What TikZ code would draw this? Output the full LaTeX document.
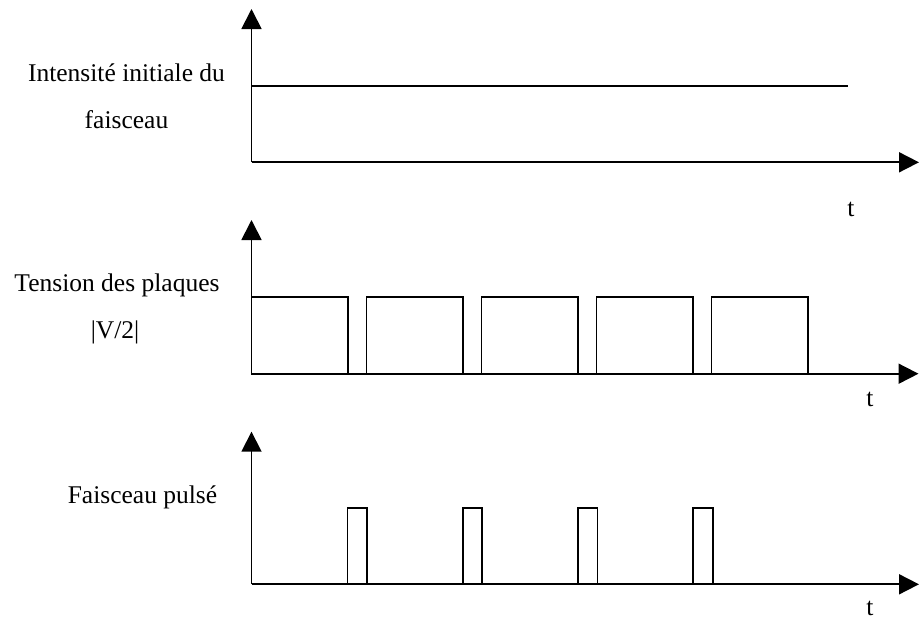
\documentclass[tikz,border=0pt]{standalone}
\usepackage{fontspec}
\setmainfont{Liberation Serif}
\usetikzlibrary{arrows.meta}
\begin{document}
\begin{tikzpicture}[x=1pt,y=-1pt,
  axis/.style={line width=1.8pt,-{Triangle[length=20pt,width=20pt]}},
  sig/.style={line width=1.8pt},
  lbl/.style={anchor=base,inner sep=0pt,font=\fontsize{25.5}{30}\selectfont}]
\useasboundingbox (0,0) rectangle (919,619);
% panel 1
\coordinate (o1) at (251.5,162.3);
\coordinate (y1) at (251.5,9);
\coordinate (x1) at (919,162.3);
\draw[axis] (o1) -- (y1);
\draw[axis] (o1) -- (x1);
\coordinate (c1a) at (251.5,85.7);
\coordinate (c1b) at (847.5,85.7);
\draw[sig] (c1a) -- (c1b);
\node[lbl] (l1a) at (126.5,81.7) {Intensité initiale du};
\node[lbl] (l1b) at (126.5,128.3) {faisceau};
\node[lbl] (t1) at (851,216) {t};
% panel 2
\coordinate (o2) at (251.5,373.7);
\coordinate (y2) at (251.5,220);
\coordinate (x2) at (918.5,373.7);
\draw[axis] (o2) -- (y2);
\draw[axis] (o2) -- (x2);
\foreach \i in {0,...,4}{
  \draw[sig] ({251.5+115*\i},373.7) rectangle ({347.7+115*\i},296.7);
}
\node[lbl] (l2a) at (117,291.7) {Tension des plaques};
\node[lbl] (l2b) at (115,338.3) {|V/2|};
\node[lbl] (t2) at (870,406.7) {t};
% panel 3
\coordinate (o3) at (251.5,584.3);
\coordinate (y3) at (251.5,431.7);
\coordinate (x3) at (919,584.3);
\draw[axis] (o3) -- (y3);
\draw[axis] (o3) -- (x3);
\foreach \i in {0,...,3}{
  \draw[sig] ({347.5+115.2*\i},584.3) rectangle ({367+115.2*\i},507.7);
}
\node[lbl] (l3) at (142.5,503.3) {Faisceau pulsé};
\node[lbl] (t3) at (870,615) {t};
\end{tikzpicture}
\end{document}
